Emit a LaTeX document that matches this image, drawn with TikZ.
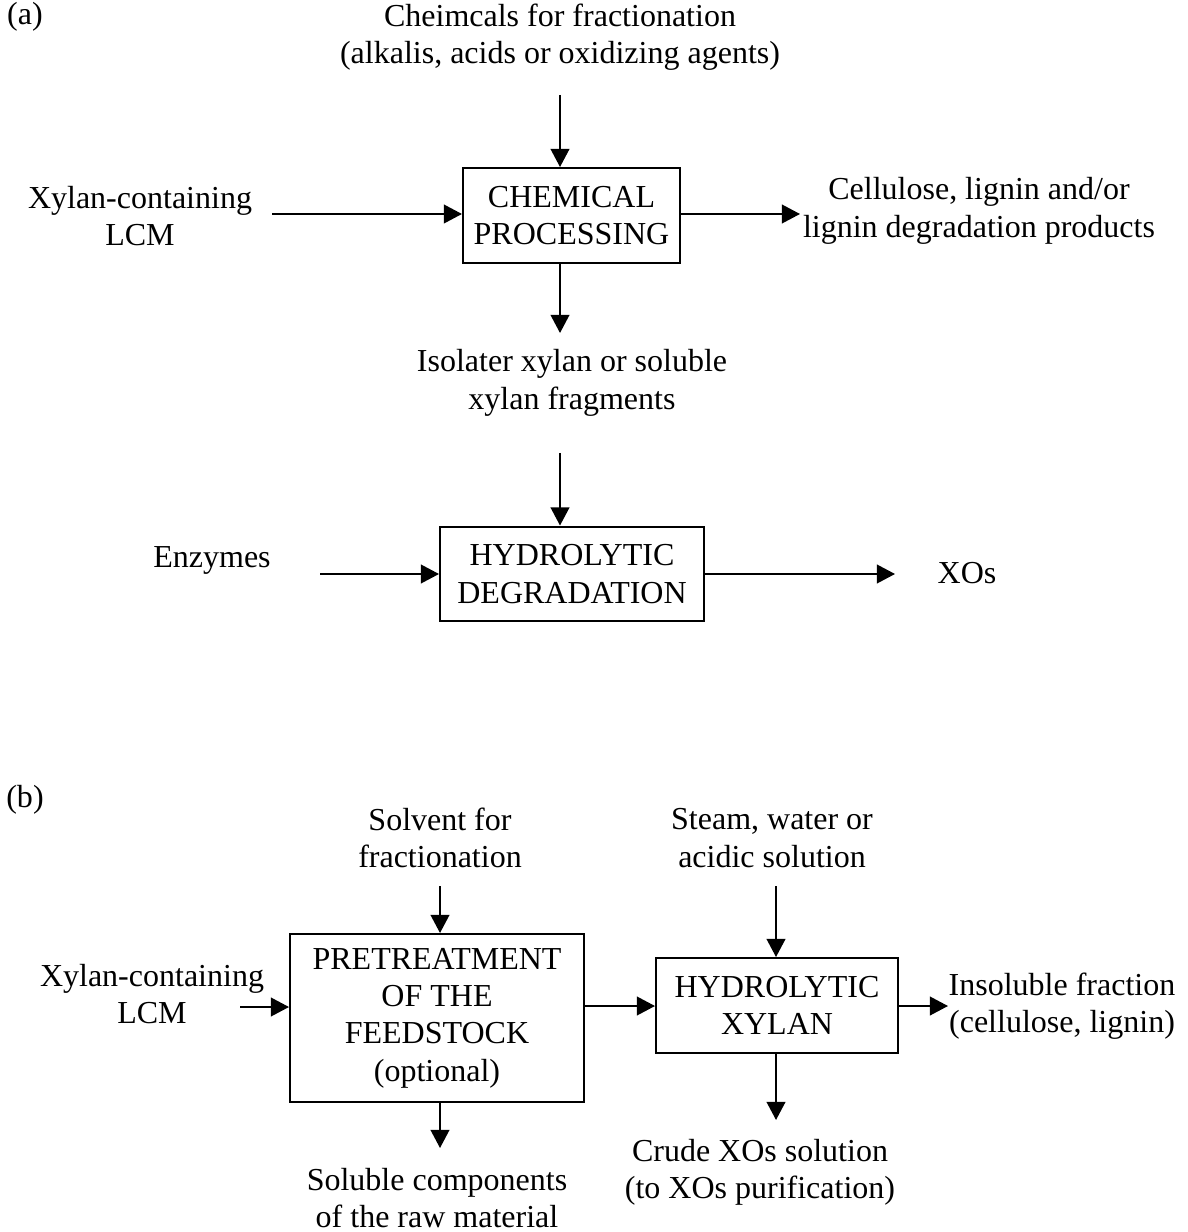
\documentclass[tikz,border=0pt]{standalone}
\usepackage{fontspec}
\setmainfont{Liberation Serif}
\usetikzlibrary{arrows.meta}

\begin{document}
\begin{tikzpicture}[x=.375pt,y=-.375pt,>={Triangle[length=6.8pt,width=7pt]},
			every node/.style={font=\fontsize{12}{14}\selectfont,align=center,inner sep=0pt},
			proc/.style={draw,line width=.75pt,minimum width=#1,minimum height=35.6pt},
			flow/.style={->,line width=.75pt}]
			\useasboundingbox (0,0) rectangle (1187,1232);
			% (a)
			\node (laba) at (25,17) {(a)};
			\node (chemin) at (560,37) {Cheimcals for fractionation\\(alkalis, acids or oxidizing agents)};
			\node (lcma) at (140,216) {Xylan-containing\\LCM};
			\node[proc=81.4pt] (chem) at (571.5,215.5) {CHEMICAL\\PROCESSING};
			\node (cellout) at (979,211) {Cellulose, lignin and/or\\lignin degradation products};
			\node (isol) at (572,383) {Isolater xylan or soluble\\xylan fragments};
			\node (enz) at (212,560) {Enzymes};
			\node[proc=99pt] (hdeg) at (572,574) {HYDROLYTIC\\DEGRADATION};
			\node (xos) at (967,573) {XOs};
			\coordinate (a1) at (560,95);
			\coordinate (a2) at (272,214);
			\coordinate (a3) at (800,214);
			\coordinate (a4) at (560,333);
			\coordinate (a5) at (560,453);
			\coordinate (a6) at (320,574);
			\coordinate (a7) at (895,574);
			% (b)
			\node (labb) at (25,800) {(b)};
			\node (solv) at (440,838) {Solvent for\\fractionation};
			\node (steam) at (772,838) {Steam, water or\\acidic solution};
			\node (lcmb) at (152,994) {Xylan-containing\\LCM};
			\node[proc=110.25pt,minimum height=63pt] (pre) at (437,1018) {PRETREATMENT\\OF THE\\FEEDSTOCK\\(optional)};
			\node[proc=90.75pt] (hxyl) at (777,1005.5) {HYDROLYTIC\\XYLAN};
			\node (insol) at (1062,1006) {Insoluble fraction\\(cellulose, lignin)};
			\node (crude) at (760,1172) {Crude XOs solution\\(to XOs purification)};
			\node (solub) at (437,1198) {Soluble components\\of the raw material};
			\coordinate (b1) at (440,886);
			\coordinate (b2) at (240,1007);
			\coordinate (b3) at (620,1006);
			\coordinate (b4) at (776,886);
			\coordinate (b5) at (948,1006);
			\coordinate (b6) at (776,1120);
			\coordinate (b7) at (440,1148);
			\foreach \a/\b in {a1/a1|-chem.north,a2/a2-|chem.west,a3-|chem.east/a3,a4|-chem.south/a4,
				a5/a5|-hdeg.north,a6/a6-|hdeg.west,a7-|hdeg.east/a7,
				b1/b1|-pre.north,b2/b2-|pre.west,b3-|pre.east/b3-|hxyl.west,b4/b4|-hxyl.north,
				b5-|hxyl.east/b5,b6|-hxyl.south/b6,b7|-pre.south/b7}
			{\draw[flow] (\a)--(\b);}
		\end{tikzpicture}
\end{document}
